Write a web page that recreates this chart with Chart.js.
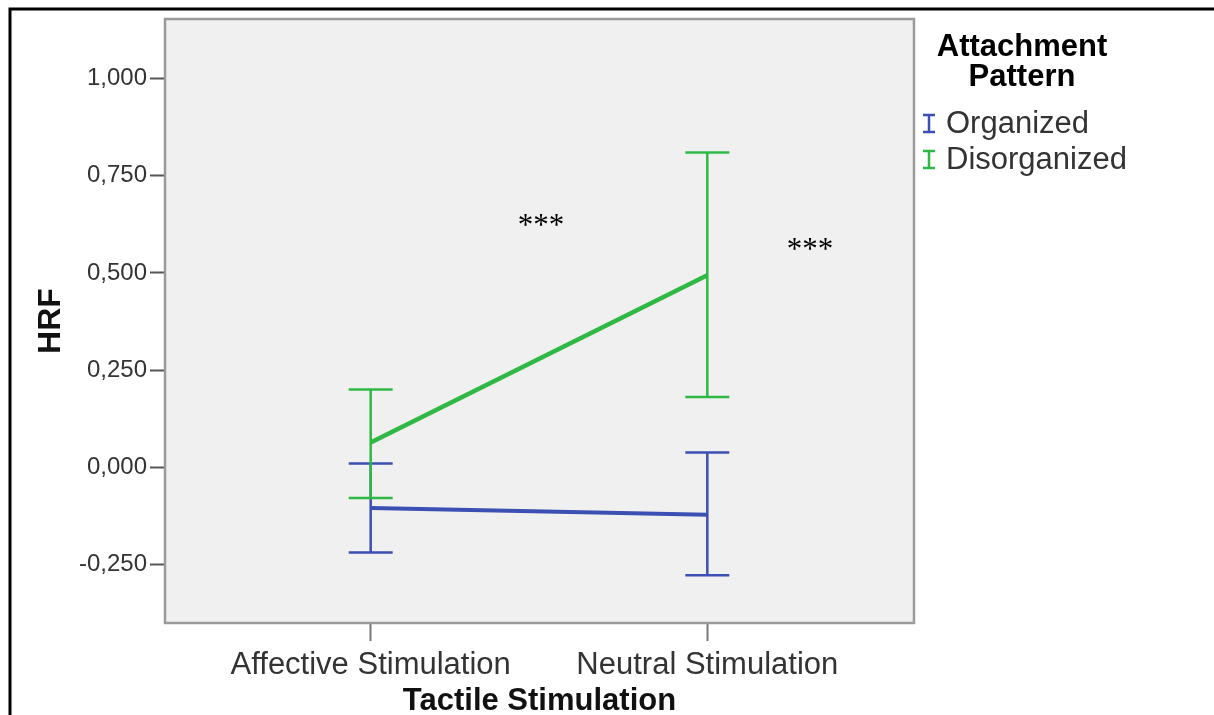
<!DOCTYPE html>
<html lang="en">
<head>
    <meta charset="UTF-8">
    <title>HRF by Tactile Stimulation</title>
    <script src="https://cdn.jsdelivr.net/npm/chart.js"></script>
    <style>
        body { margin: 0; background: #fff; }
    </style>
</head>
<body>
<canvas id="chart" width="1214" height="715"></canvas>

<script>
    // Values (means and error bar ends)
    const categories = ["Affective Stimulation", "Neutral Stimulation"];
    const seriesNames = ["Organized", "Disorganized"];

    const organizedMean = [-0.105, -0.122];
    const organizedLow = [-0.219, -0.278];
    const organizedHigh = [0.010, 0.038];

    const disorganizedMean = [0.064, 0.494];
    const disorganizedLow = [-0.079, 0.181];
    const disorganizedHigh = [0.200, 0.810];

    const yTicks = [-0.25, 0, 0.25, 0.5, 0.75, 1];

    // significance marks, in data units (x = category position, y = HRF)
    const starX = [0.506, 1.305];
    const starY = [0.631, 0.570];

    const blue = "#3c4fb2";
    const green = "#2fb944";

    const toPoints = (vals) => vals.map((v, i) => ({ x: i, y: v }));

    const framePlugin = {
        id: "frame",
        beforeDraw(chart) {
            const { ctx, chartArea: a } = chart;
            ctx.save();
            ctx.fillStyle = "#f0f0f0";
            ctx.fillRect(a.left, a.top, a.right - a.left, a.bottom - a.top);
            ctx.restore();
        },
        beforeDatasetsDraw(chart) {
            const { ctx, scales } = chart;
            ctx.save();
            ctx.lineWidth = 2.5;
            chart.data.datasets.forEach((ds) => {
                ctx.strokeStyle = ds.barColor;
                ds.errLow.forEach((lo, i) => {
                    const px = scales.x.getPixelForValue(i);
                    const yLo = scales.y.getPixelForValue(lo);
                    const yHi = scales.y.getPixelForValue(ds.errHigh[i]);
                    ctx.beginPath();
                    ctx.moveTo(px, yLo);
                    ctx.lineTo(px, yHi);
                    ctx.moveTo(px - 22, yLo);
                    ctx.lineTo(px + 22, yLo);
                    ctx.moveTo(px - 22, yHi);
                    ctx.lineTo(px + 22, yHi);
                    ctx.stroke();
                });
            });
            ctx.restore();
        },
        afterDraw(chart) {
            const { ctx, chartArea: a, scales } = chart;
            ctx.save();
            // plot box
            ctx.strokeStyle = "#9a9a9a";
            ctx.lineWidth = 2.5;
            ctx.strokeRect(a.left, a.top, a.right - a.left, a.bottom - a.top);

            // outer black frame (top and left)
            ctx.strokeStyle = "#000";
            ctx.lineWidth = 3;
            ctx.beginPath();
            ctx.moveTo(10, 715);
            ctx.lineTo(10, 9);
            ctx.lineTo(1214, 9);
            ctx.stroke();

            // stars
            ctx.fillStyle = "#000";
            ctx.font = '31px "Liberation Serif", "Times New Roman", serif';
            ctx.textAlign = "center";
            ctx.textBaseline = "middle";
            starX.forEach((sx, i) => {
                ctx.fillText("***", scales.x.getPixelForValue(sx), scales.y.getPixelForValue(starY[i]) + 5);
            });

            // legend
            ctx.textBaseline = "alphabetic";
            ctx.font = 'bold 31px "Liberation Sans", Arial, sans-serif';
            ctx.fillText("Attachment", 1022, 56);
            ctx.fillText("Pattern", 1022, 86);

            ctx.textAlign = "left";
            ctx.font = '31px "Liberation Sans", Arial, sans-serif';
            chart.data.datasets.forEach((ds, i) => {
                const base = 133 + i * 36;
                ctx.strokeStyle = ds.barColor;
                ctx.lineWidth = 2.5;
                ctx.beginPath();
                ctx.moveTo(929, base - 18);
                ctx.lineTo(929, base - 1);
                ctx.moveTo(923, base - 18);
                ctx.lineTo(935, base - 18);
                ctx.moveTo(923, base - 1);
                ctx.lineTo(935, base - 1);
                ctx.stroke();
                ctx.fillStyle = "#333";
                ctx.fillText(seriesNames[i], 946, base);
            });
            ctx.restore();
        }
    };

    const ctx = document.getElementById("chart").getContext("2d");
    new Chart(ctx, {
        type: "line",
        data: {
            datasets: [
                {
                    label: seriesNames[0],
                    data: toPoints(organizedMean),
                    errLow: organizedLow,
                    errHigh: organizedHigh,
                    barColor: blue,
                    borderColor: blue,
                    borderWidth: 4,
                    pointRadius: 0
                },
                {
                    label: seriesNames[1],
                    data: toPoints(disorganizedMean),
                    errLow: disorganizedLow,
                    errHigh: disorganizedHigh,
                    barColor: green,
                    borderColor: green,
                    borderWidth: 4.5,
                    pointRadius: 0
                }
            ]
        },
        options: {
            responsive: false,
            animation: false,
            layout: { padding: { top: 19, right: 300, left: 0, bottom: 0 } },
            plugins: {
                legend: { display: false },
                tooltip: { enabled: false }
            },
            scales: {
                x: {
                    type: "linear",
                    min: -0.611,
                    max: 1.614,
                    afterBuildTicks: (s) => { s.ticks = categories.map((c, i) => ({ value: i })); },
                    afterFit: (s) => { s.height = 92; },
                    ticks: {
                        callback: (v, i) => categories[i],
                        color: "#333",
                        padding: 6,
                        maxRotation: 0,
                        autoSkip: false,
                        font: { family: '"Liberation Sans", Arial, sans-serif', size: 31 }
                    },
                    grid: { drawOnChartArea: false, drawTicks: true, tickLength: 18, tickColor: "#777", tickWidth: 2 },
                    border: { display: false },
                    title: {
                        display: true,
                        text: "Tactile Stimulation",
                        color: "#111",
                        padding: { top: 0, bottom: -5 },
                        font: { family: '"Liberation Sans", Arial, sans-serif', size: 31, weight: "bold" }
                    }
                },
                y: {
                    min: -0.4007,
                    max: 1.1536,
                    afterBuildTicks: (s) => { s.ticks = yTicks.map((v) => ({ value: v })); },
                    afterFit: (s) => { s.width = 165; },
                    ticks: {
                        callback: (v) => v.toFixed(3).replace(".", ","),
                        color: "#333",
                        padding: 3,
                        font: { family: '"Liberation Sans", Arial, sans-serif', size: 24 }
                    },
                    grid: { drawOnChartArea: false, drawTicks: true, tickLength: 15, tickColor: "#555", tickWidth: 2 },
                    border: { display: false },
                    title: {
                        display: true,
                        text: "HRF",
                        color: "#111",
                        padding: { top: 32, bottom: 0 },
                        font: { family: '"Liberation Sans", Arial, sans-serif', size: 32, weight: "bold" }
                    }
                }
            }
        },
        plugins: [framePlugin]
    });
</script>
</body>
</html>
